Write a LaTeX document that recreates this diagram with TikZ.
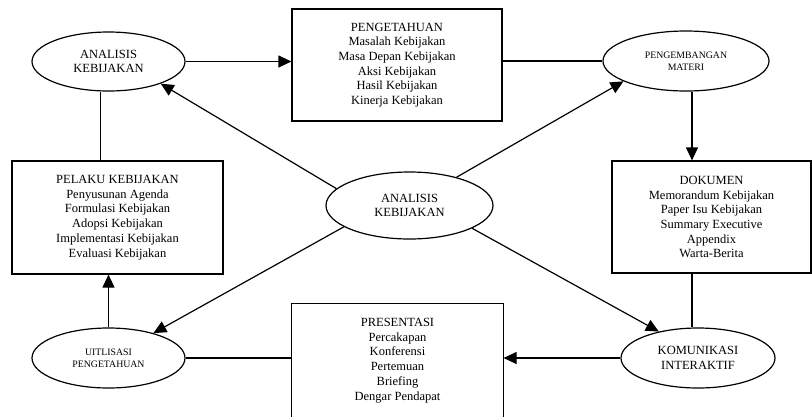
\documentclass[tikz,border=0pt]{standalone}
\usepackage{fontspec}
\setmainfont{Liberation Serif}
\usetikzlibrary{shapes.geometric,arrows.meta}

\begin{document}
\begin{tikzpicture}[x=1pt,y=-1pt,line width=1.2pt,
		elips/.style={ellipse,draw,inner sep=1pt,align=center,font=\fontsize{12.5}{14.7}\selectfont},
		elipskecil/.style={elips,font=\fontsize{9.8}{12.3}\selectfont},
		kotak/.style={rectangle,draw,inner sep=2pt,align=center,font=\fontsize{12.5}{14.7}\selectfont},
		panah/.style={-{Triangle[length=13pt,width=12pt]}}]
				\useasboundingbox (0,0) rectangle (812,416);
				%\draw[help lines] (0,0) grid[step=50] (812,416);
				
				\node[elips,minimum width=153pt,minimum height=59pt] (analisis) at (108.5,61.5) {ANALISIS\\KEBIJAKAN};
				\node[kotak,minimum width=210pt,minimum height=112pt] (pengetahuan) at (397,65) {PENGETAHUAN\\Masalah Kebijakan\\Masa Depan Kebijakan\\Aksi Kebijakan\\Hasil Kebijakan\\Kinerja Kebijakan};
				\node[elipskecil,minimum width=166pt,minimum height=60pt] (materi) at (686,61) {PENGEMBANGAN\\MATERI};
				\node[kotak,minimum width=211pt,minimum height=113pt] (pelaku) at (117.5,217.5) {PELAKU KEBIJAKAN\\Penyusunan Agenda\\Formulasi Kebijakan\\Adopsi Kebijakan\\Implementasi Kebijakan\\Evaluasi Kebijakan};
				\node[elips,minimum width=167pt,minimum height=67pt] (pusat) at (409.5,205.5) {ANALISIS\\KEBIJAKAN};
				\node[kotak,minimum width=199pt,minimum height=112pt] (dokumen) at (711.5,217) {DOKUMEN\\Memorandum Kebijakan\\Paper Isu Kebijakan\\Summary Executive\\Appendix\\Warta-Berita};
				\node[elipskecil,minimum width=153pt,minimum height=60pt] (utilisasi) at (108.5,358) {UITLISASI\\PENGETAHUAN};
				\node[kotak,draw=none,minimum width=211pt,minimum height=113pt] (presentasi) at (397.5,360.5) {PRESENTASI\\Percakapan\\Konferensi\\Pertemuan\\Briefing\\Dengar Pendapat};
				\draw (presentasi.north west) rectangle ([yshift=-10pt]presentasi.south east);
				\node[elips,minimum width=154pt,minimum height=60pt] (komunikasi) at (698,358) {KOMUNIKASI\\INTERAKTIF};
				
				% lingkaran luar
				\draw[panah] (analisis.east) -- (analisis.east -| pengetahuan.west);
				\draw (materi.west -| pengetahuan.east) -- (materi.west);
				\draw[panah] ([xshift=6pt]materi.south) -- ([xshift=6pt]materi.south |- dokumen.north);
				\draw ([xshift=6pt]materi.south |- dokumen.south) -- ([xshift=6pt]materi.south |- komunikasi.north);
				\draw[panah] (komunikasi.west) -- (komunikasi.west -| presentasi.east);
				\draw (utilisasi.east) -- (utilisasi.east -| presentasi.west);
				\draw[panah] (utilisasi.north) -- (utilisasi.north |- pelaku.south);
				\draw ([xshift=-8pt]analisis.south) -- ([xshift=-8pt]analisis.south |- pelaku.north);
				
				% dari pusat
				\draw[panah] (pusat.167) -- (analisis.-23);
				\draw[panah] (pusat.31) -- (materi.198);
				\draw[panah] (pusat.198) -- (utilisasi.29);
				\draw[panah] (pusat.-20) -- (komunikasi.146);
			\end{tikzpicture}
\end{document}
